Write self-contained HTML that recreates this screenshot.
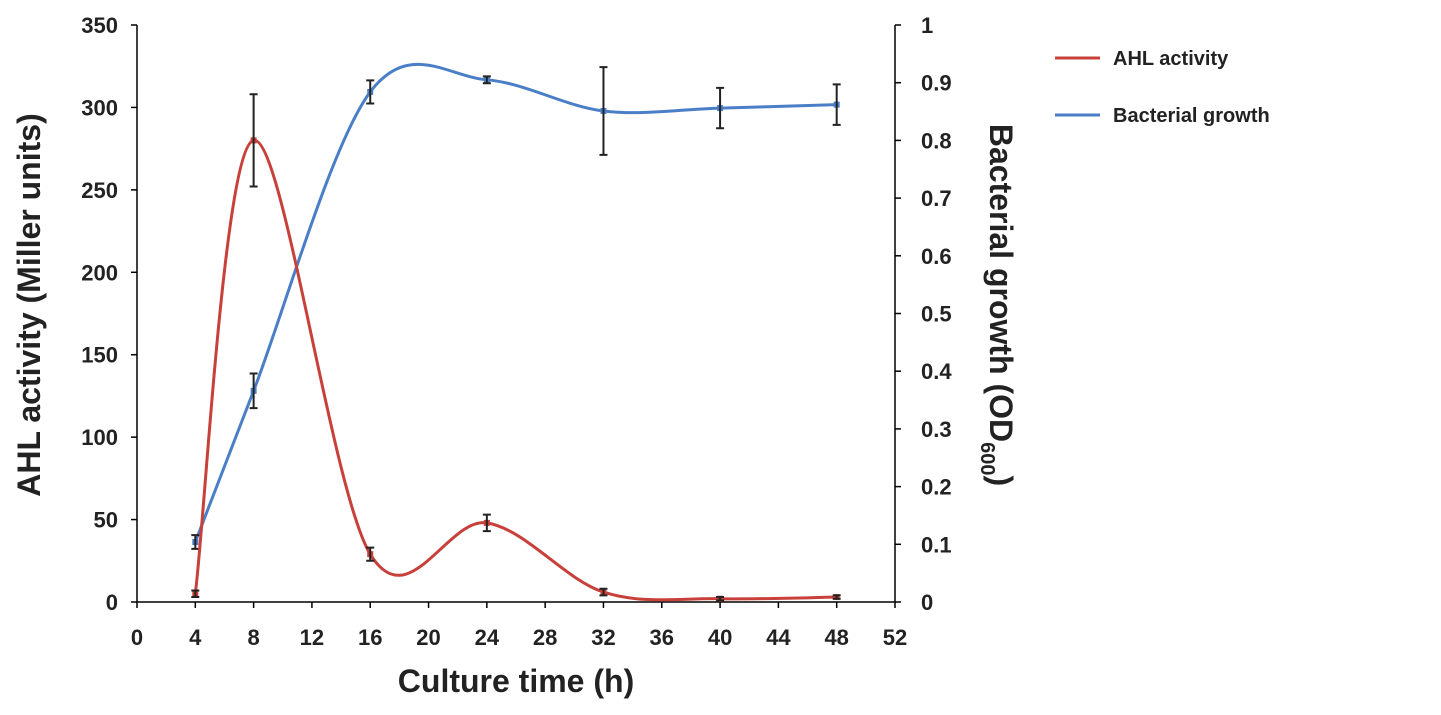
<!DOCTYPE html>
<html><head><meta charset="utf-8"><style>
body{margin:0;background:#fff;width:1441px;height:710px;overflow:hidden}
svg{font-family:"Liberation Sans",Arial,sans-serif;font-weight:bold}
</style></head><body>
<svg id="chart" width="1441" height="710"></svg>
<script>
const times=[4,8,16,24,32,40,48];
const ahl=[5,280,29,48,6,2,3];
const ahlErr=[2,28,4,5,2,1,1];
const growth=[0.104,0.366,0.884,0.905,0.851,0.856,0.862];
const growthErr=[0.012,0.03,0.02,0.006,0.076,0.035,0.035];
const xTicks=[0,4,8,12,16,20,24,28,32,36,40,44,48,52];
const yLTicks=[0,50,100,150,200,250,300,350];
const yRTicks=[0,0.1,0.2,0.3,0.4,0.5,0.6,0.7,0.8,0.9,1];

const svg=document.getElementById('chart');const NS='http://www.w3.org/2000/svg';
const X0=137,X1=895,Y0=602,Y1=25;
const xs=v=>X0+(v/52)*(X1-X0);
const yl=v=>Y0-(v/350)*(Y0-Y1);
const yr=v=>Y0-v*(Y0-Y1);
function mk(t,a,txt){const e=document.createElementNS(NS,t);for(const k in a)e.setAttribute(k,a[k]);if(txt!==undefined)e.textContent=txt;svg.appendChild(e);return e;}
let e;
e=mk('line',{x1:X0,y1:Y0,x2:X1,y2:Y0,stroke:'#000','stroke-width':1.5});


e=mk('line',{x1:X0,y1:Y0,x2:X0,y2:Y1,stroke:'#000','stroke-width':1.5});


e=mk('line',{x1:X1,y1:Y0,x2:X1,y2:Y1,stroke:'#000','stroke-width':1.5});


xTicks.forEach(t=>{const x=xs(t);mk('line',{x1:x,y1:Y0,x2:x,y2:Y0+6,stroke:'#000','stroke-width':1.5});
e=mk('text',{x:x,y:Y0+43,'text-anchor':'middle','font-size':22,fill:'#222'},t);

});
yLTicks.forEach(t=>{const y=yl(t);mk('line',{x1:X0-6,y1:y,x2:X0,y2:y,stroke:'#000','stroke-width':1.5});
e=mk('text',{x:X0-19,y:y+8,'text-anchor':'end','font-size':22,fill:'#222'},t);

});
yRTicks.forEach(t=>{const y=yr(t);mk('line',{x1:X1,y1:y,x2:X1+6,y2:y,stroke:'#000','stroke-width':1.5});
e=mk('text',{x:X1+26,y:y+8,'text-anchor':'start','font-size':22,fill:'#222'},t);

});
e=mk('text',{x:516,y:692,'text-anchor':'middle','font-size':32,fill:'#222'},'Culture time (h)');


e=mk('text',{x:0,y:0,'text-anchor':'middle','font-size':32,fill:'#222',transform:'translate(40,305) rotate(-90)'},'AHL activity (Miller units)');


e=mk('text',{x:0,y:0,'text-anchor':'middle','font-size':32,fill:'#222',transform:'translate(990,305) rotate(90)'});
e.innerHTML='Bacterial growth (OD<tspan font-size="20" dy="9">600</tspan><tspan dy="-9">)</tspan>';


function smooth(pts){let d='M'+pts[0][0]+','+pts[0][1];for(let i=0;i<pts.length-1;i++){const p0=pts[i-1]||pts[i],p1=pts[i],p2=pts[i+1],p3=pts[i+2]||p2;
const c1=[p1[0]+(p2[0]-p0[0])/6,p1[1]+(p2[1]-p0[1])/6],c2=[p2[0]-(p3[0]-p1[0])/6,p2[1]-(p3[1]-p1[1])/6];
d+=' C'+c1+' '+c2+' '+p2;}return d;}
function series(vals,errs,ys,color,name){
e=mk('path',{d:smooth(times.map((t,i)=>[xs(t),ys(vals[i])])),fill:'none',stroke:color,'stroke-width':3});


times.forEach((t,i)=>{const x=xs(t);
e=mk('rect',{x:x-3,y:ys(vals[i])-3,width:6,height:6,fill:color});


const a=ys(vals[i]+errs[i]),b=ys(vals[i]-errs[i]);
e=mk('path',{d:`M${x},${a}V${b}M${x-4},${a}H${x+4}M${x-4},${b}H${x+4}`,stroke:'#222','stroke-width':2,fill:'none'});

});}
series(growth,growthErr,yr,'#4a7fc8','growth');
series(ahl,ahlErr,yl,'#c8403a','ahl');
e=mk('line',{x1:1055,y1:58,x2:1100,y2:58,stroke:'#c8403a','stroke-width':3});


e=mk('text',{x:1113,y:65,'font-size':20,fill:'#222'},'AHL activity');


e=mk('line',{x1:1055,y1:115,x2:1100,y2:115,stroke:'#4a7fc8','stroke-width':3});


e=mk('text',{x:1113,y:122,'font-size':20,fill:'#222'},'Bacterial growth');


</script>
</body></html>
